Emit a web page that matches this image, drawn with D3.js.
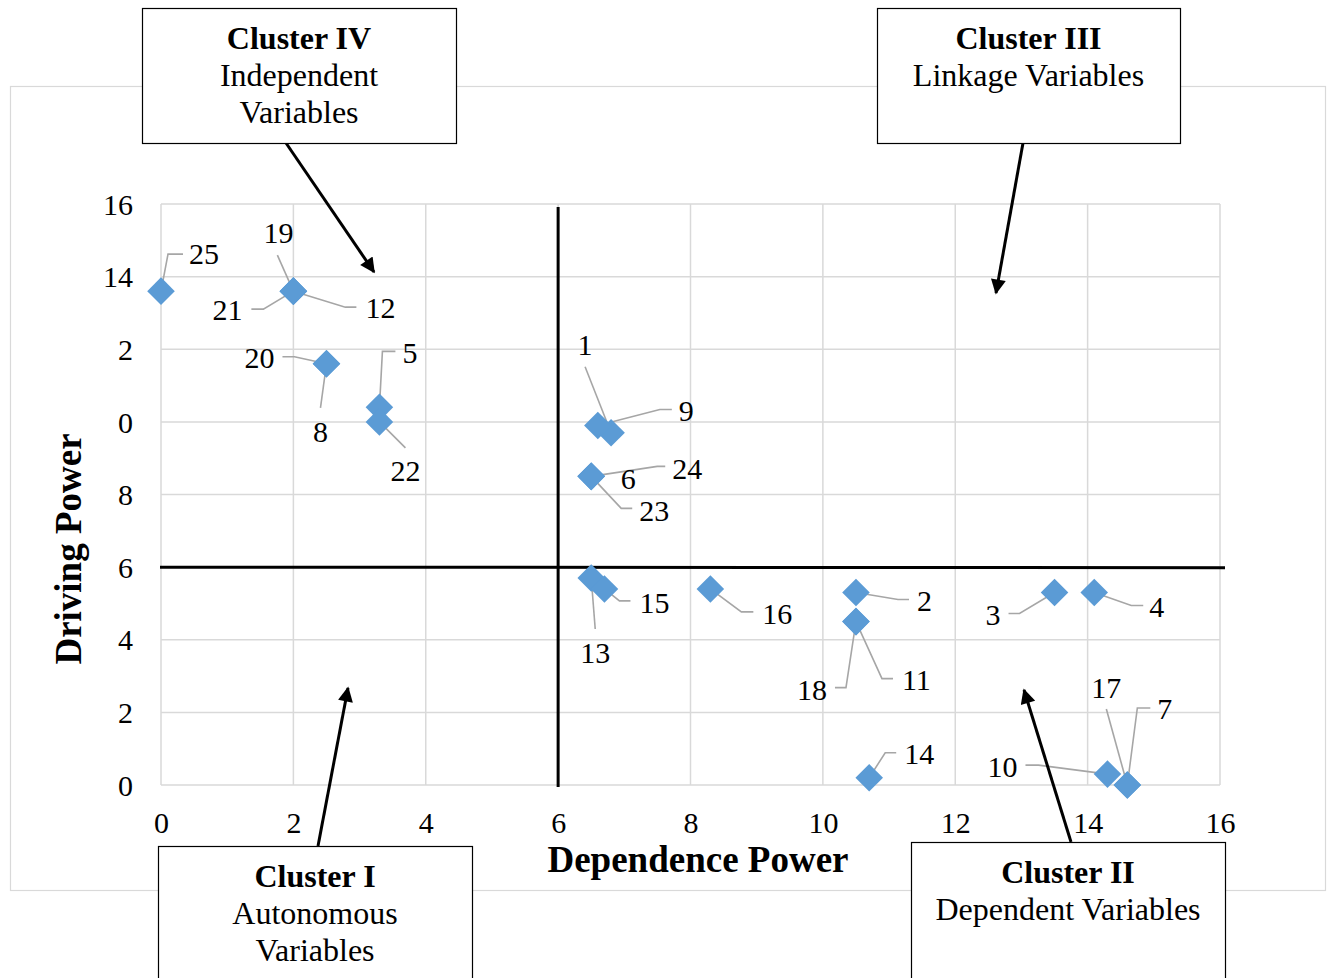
<!DOCTYPE html>
<html>
<head>
<meta charset="utf-8">
<script src="https://cdn.jsdelivr.net/npm/d3@7"></script>
<style>
  html, body { margin: 0; padding: 0; background: #fff; }
  svg { display: block; font-family: "Liberation Serif", "Times New Roman", serif; }
</style>
</head>
<body>
<svg id="chart" width="1327" height="978"></svg>
<script>
// Variable ids with their dependence power (x) and driving power (y)
const variableIds = [1, 2, 3, 4, 5, 6, 7, 8, 9, 10, 11, 12, 13, 14, 15, 16, 17, 18, 19, 20, 21, 22, 23, 24, 25];
const dependencePower = [6.8, 10.5, 13.5, 14.1, 3.3, 6.5, 14.6, 2.5, 6.6, 14.3, 10.5, 2.0, 6.5, 10.7, 6.7, 8.3, 14.6, 10.5, 2.0, 2.5, 2.0, 3.3, 6.5, 6.5, 0.0];
const drivingPower    = [9.7, 5.3, 5.3, 5.3, 10.4, 8.5, 0.0, 11.6, 9.9, 0.3, 4.5, 13.6, 5.7, 0.2, 5.4, 5.4, 0.0, 4.5, 13.6, 11.6, 13.6, 10.0, 8.5, 8.5, 13.6];

// Axis ticks and the labels printed beside them
const xTicks = [0, 2, 4, 6, 8, 10, 12, 14, 16];
const xTickLabels = ["0", "2", "4", "6", "8", "10", "12", "14", "16"];
const yTicks = [0, 2, 4, 6, 8, 10, 12, 14, 16];
const yTickLabels = ["0", "2", "4", "6", "8", "0", "2", "14", "16"];

// Quadrant dividers
const dividerX = 6;
const dividerY = 6;

// Cluster captions
const clusterTitles = ["Cluster IV", "Cluster III", "Cluster I", "Cluster II"];
const clusterLines = [["Independent", "Variables"], ["Linkage Variables"], ["Autonomous", "Variables"], ["Dependent Variables"]];

// ---- layout ----
const svg = d3.select("#chart");
const plot = { left: 161, right: 1220, top: 204, bottom: 785 };

const x = d3.scaleLinear().domain([0, 16]).range([plot.left, plot.right]);
const y = d3.scaleLinear().domain([0, 16]).range([plot.bottom, plot.top]);

const labelFont = 30;
const serif = "Liberation Serif, Times New Roman, serif";

// Outer chart frame
svg.append("rect")
  .attr("x", 10.5).attr("y", 86.5).attr("width", 1315).attr("height", 804)
  .attr("fill", "#fff").attr("stroke", "#d9d9d9").attr("stroke-width", 1.2);

// Gridlines
const grid = svg.append("g");
grid.selectAll("line.v").data(xTicks).join("line")
  .attr("x1", d => x(d)).attr("x2", d => x(d))
  .attr("y1", plot.top).attr("y2", plot.bottom)
  .attr("stroke", "#d9d9d9").attr("stroke-width", 1.5);
grid.selectAll("line.h").data(yTicks).join("line")
  .attr("x1", plot.left).attr("x2", plot.right)
  .attr("y1", d => y(d)).attr("y2", d => y(d))
  .attr("stroke", "#d9d9d9").attr("stroke-width", 1.5);

// Axes (tick labels only; axis lines come from the grid)
const xAxis = d3.axisBottom(x).tickValues(xTicks)
  .tickFormat((d, i) => xTickLabels[i]).tickSize(0).tickPadding(0);
const gx = svg.append("g").attr("transform", `translate(0,833)`).call(xAxis);
gx.select(".domain").remove();
gx.attr("font-family", serif);
gx.selectAll("text").attr("font-size", labelFont).attr("fill", "#000").attr("dy", "0");

const yAxis = d3.axisLeft(y).tickValues(yTicks)
  .tickFormat((d, i) => yTickLabels[i]).tickSize(0).tickPadding(0);
const gy = svg.append("g").attr("transform", `translate(133,0)`).call(yAxis);
gy.select(".domain").remove();
gy.attr("font-family", serif);
gy.selectAll("text").attr("font-size", labelFont).attr("fill", "#000").attr("dy", "0.34em");

// Axis titles
svg.append("text")
  .attr("x", 698).attr("y", 872)
  .attr("text-anchor", "middle").attr("font-weight", "bold").attr("font-size", 37)
  .text("Dependence Power");
svg.append("text")
  .attr("transform", `translate(81,549) rotate(-90)`)
  .attr("text-anchor", "middle").attr("font-weight", "bold").attr("font-size", 37)
  .text("Driving Power");

// Quadrant divider lines
svg.append("line")
  .attr("x1", x(dividerX)).attr("x2", x(dividerX))
  .attr("y1", y(16) + 3).attr("y2", y(0) + 2)
  .attr("stroke", "#000").attr("stroke-width", 3);
svg.append("line")
  .attr("x1", plot.left - 1).attr("x2", plot.right + 5)
  .attr("y1", y(dividerY)).attr("y2", y(dividerY) + 0.5)
  .attr("stroke", "#000").attr("stroke-width", 3);

// Leader-line and label placement, in pixels from each marker
// leader: bend points after the marker centre; label: text anchor point
const labelLayout = {
  1:  { leader: [[-26, -66]], label: [-26, -88], anchor: "middle" },
  2:  { leader: [[42, 7], [53, 7]], label: [61, 8], anchor: "start" },
  3:  { leader: [[-35, 21], [-46, 21]], label: [-54, 22], anchor: "end" },
  4:  { leader: [[37, 13], [49, 13]], label: [55, 14], anchor: "start" },
  5:  { leader: [[3, -56], [16, -56]], label: [23, -55], anchor: "start" },
  6:  { leader: [], label: [37, 2], anchor: "middle" },
  7:  { leader: [[10, -77], [23, -77]], label: [30, -76], anchor: "start" },
  8:  { leader: [[-6, 44]], label: [-6, 68], anchor: "middle" },
  9:  { leader: [[62, -16], [74, -16]], label: [81, -15], anchor: "start" },
  10: { leader: [[-69, -9], [-82, -9]], label: [-90, -7], anchor: "end" },
  11: { leader: [[26, 57], [37, 57]], label: [46, 58], anchor: "start" },
  12: { leader: [[52, 16], [63, 16]], label: [72, 17], anchor: "start" },
  13: { leader: [[4, 51]], label: [4, 75], anchor: "middle" },
  14: { leader: [[16, -25], [27, -25]], label: [35, -24], anchor: "start" },
  15: { leader: [[15, 12], [26, 12]], label: [35, 14], anchor: "start" },
  16: { leader: [[31, 23], [43, 23]], label: [52, 25], anchor: "start" },
  17: { leader: [[-21, -76]], label: [-21, -97], anchor: "middle" },
  18: { leader: [[-10, 66], [-21, 66]], label: [-29, 68], anchor: "end" },
  19: { leader: [[-16, -36]], label: [-15, -58], anchor: "middle" },
  20: { leader: [[-32, -7], [-44, -7]], label: [-52, -6], anchor: "end" },
  21: { leader: [[-30, 18], [-42, 18]], label: [-51, 19], anchor: "end" },
  22: { leader: [[26, 26]], label: [26, 49], anchor: "middle" },
  23: { leader: [[30, 32], [41, 32]], label: [48, 34], anchor: "start" },
  24: { leader: [[66, -10], [74, -10]], label: [81, -8], anchor: "start" },
  25: { leader: [[7, -37], [22, -37]], label: [28, -37], anchor: "start" }
};

const points = variableIds.map((id, i) => ({ id, dx: dependencePower[i], dy: drivingPower[i] }));

// Leader lines
svg.append("g").selectAll("path").data(points).join("path")
  .attr("d", d => {
    const px = x(d.dx), py = y(d.dy);
    const pts = [[px, py]].concat(labelLayout[d.id].leader.map(p => [px + p[0], py + p[1]]));
    return pts.length > 1 ? d3.line()(pts) : null;
  })
  .attr("fill", "none").attr("stroke", "#a6a6a6").attr("stroke-width", 1.6);

// Diamond markers
const diamond = d3.symbol().type(d3.symbolSquare).size(380);
svg.append("g").selectAll("path").data(points).join("path")
  .attr("d", diamond)
  .attr("transform", d => `translate(${x(d.dx)},${y(d.dy)}) rotate(45)`)
  .attr("fill", "#5b9bd5");

// Variable labels
svg.append("g").selectAll("text").data(points).join("text")
  .attr("x", d => x(d.dx) + labelLayout[d.id].label[0])
  .attr("y", d => y(d.dy) + labelLayout[d.id].label[1])
  .attr("dy", "0.34em")
  .attr("text-anchor", d => labelLayout[d.id].anchor)
  .attr("font-size", labelFont).attr("fill", "#000")
  .text(d => d.id);

// Cluster boxes with arrows pointing into their quadrants
const boxes = [
  { x0: 142, y0: 8, x1: 456, y1: 143, textY: 38, from: [286, 143], to: [374, 272] },
  { x0: 877, y0: 8, x1: 1180, y1: 143, textY: 38, from: [1023, 143], to: [996, 293] },
  { x0: 158, y0: 846, x1: 472, y1: 990, textY: 876, from: [318, 846], to: [348, 688] },
  { x0: 911, y0: 842, x1: 1225, y1: 990, textY: 872, from: [1071, 842], to: [1024, 690] }
];

svg.append("defs").append("marker")
  .attr("id", "arrowhead").attr("viewBox", "0 0 10 10")
  .attr("refX", 9).attr("refY", 5)
  .attr("markerWidth", 6).attr("markerHeight", 5).attr("markerUnits", "strokeWidth")
  .attr("orient", "auto")
  .append("path").attr("d", "M0,0 L10,5 L0,10 Z").attr("fill", "#000");

boxes.forEach((b, i) => {
  svg.append("line")
    .attr("x1", b.from[0]).attr("y1", b.from[1]).attr("x2", b.to[0]).attr("y2", b.to[1])
    .attr("stroke", "#000").attr("stroke-width", 3).attr("marker-end", "url(#arrowhead)");
  svg.append("rect")
    .attr("x", b.x0 + 0.5).attr("y", b.y0 + 0.5)
    .attr("width", b.x1 - b.x0).attr("height", b.y1 - b.y0)
    .attr("fill", "#fff").attr("stroke", "#000").attr("stroke-width", 1.2);
  const cx = (b.x0 + b.x1) / 2;
  svg.append("text")
    .attr("x", cx).attr("y", b.textY).attr("dy", "0.34em")
    .attr("text-anchor", "middle").attr("font-weight", "bold").attr("font-size", 32)
    .text(clusterTitles[i]);
  clusterLines[i].forEach((t, j) => {
    svg.append("text")
      .attr("x", cx).attr("y", b.textY + 37 * (j + 1)).attr("dy", "0.34em")
      .attr("text-anchor", "middle").attr("font-size", 32)
      .text(t);
  });
});
</script>
</body>
</html>
